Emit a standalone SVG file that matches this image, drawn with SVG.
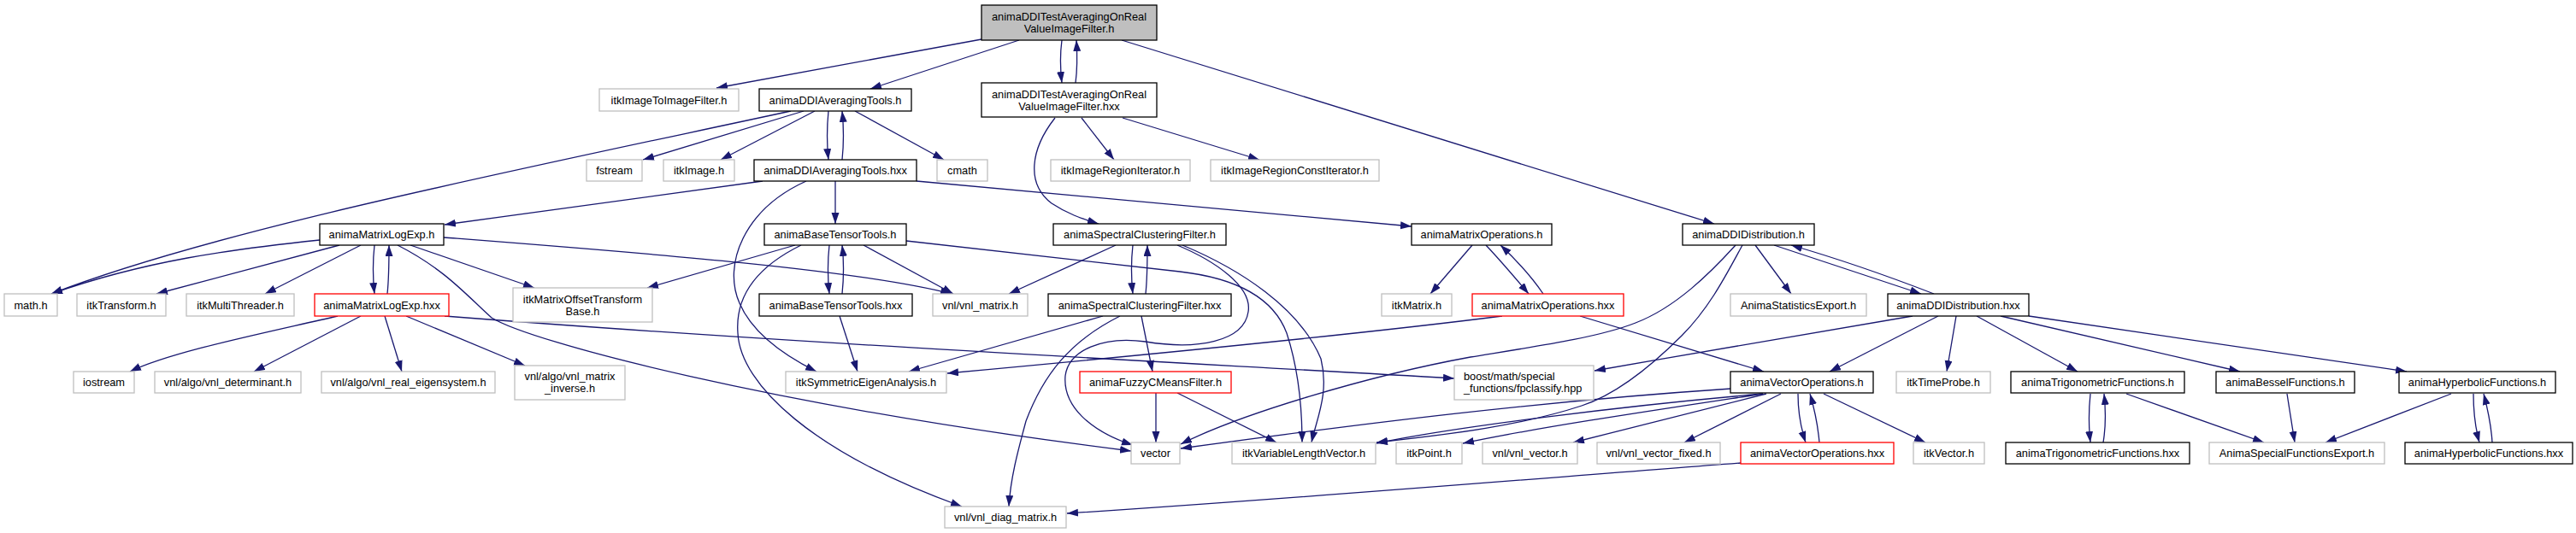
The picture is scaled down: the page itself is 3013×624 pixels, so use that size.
<svg xmlns="http://www.w3.org/2000/svg" width="3013" height="624" viewBox="0 0 3013 624">
<defs>
<style>
rect{fill:#fff;stroke:#000;stroke-width:1.3}
.g rect{stroke:#bfbfbf}
.r rect{stroke:#ff0000}
.m rect{fill:#bfbfbf}
text{font-family:"Liberation Sans",Arial,sans-serif;font-size:12.8px;text-anchor:middle;fill:#000}
.l{text-anchor:start}
#edges path{fill:none;stroke:#191970;stroke-width:1.3;marker-end:url(#a)}
</style>
<marker id="a" markerUnits="userSpaceOnUse" markerWidth="14" markerHeight="10" refX="13" refY="4.5" orient="auto"><path d="M0,0 L13,4.5 L0,9 z" fill="#191970"/></marker>
</defs>
<rect x="0" y="0" width="3013" height="624" style="fill:#fff;stroke:none"/>
<g id="edges">
<path d="M1148,46 L838,103"/>
<path d="M1192,47 L1018,104"/>
<path d="M1242,47 C1240,62 1240,80 1242,97"/>
<path d="M1258,97 C1260,82 1260,64 1259,47"/>
<path d="M1312,47 L2005,262"/>
<path d="M1234,138 C1205,175 1200,215 1230,238 C1248,250 1265,256 1285,262"/>
<path d="M1265,138 L1303,187"/>
<path d="M1313,138 L1473,187"/>
<path d="M925,130 C600,200 250,270 60,344"/>
<path d="M940,130 L752,187"/>
<path d="M953,130 L843,187"/>
<path d="M969,130 C967,150 967,168 969,187"/>
<path d="M985,187 C987,168 987,150 985,130"/>
<path d="M1000,130 L1104,187"/>
<path d="M892,212 L520,263"/>
<path d="M977,212 L977,262"/>
<path d="M943,212 C870,245 845,310 865,355 C880,390 915,415 955,435"/>
<path d="M1072,212 L1651,265"/>
<path d="M374,281 C270,292 170,305 60,344"/>
<path d="M397,287 L183,344"/>
<path d="M422,287 L310,344"/>
<path d="M438,287 C436,305 436,325 438,344"/>
<path d="M453,344 C455,325 455,305 455,287"/>
<path d="M480,287 L625,337"/>
<path d="M519,278 C750,296 1000,315 1113,344"/>
<path d="M465,287 C520,315 545,345 575,372 C620,400 900,475 1323,528"/>
<path d="M395,370 C300,392 200,412 152,435"/>
<path d="M422,370 L297,435"/>
<path d="M450,370 L470,435"/>
<path d="M475,370 L614,428"/>
<path d="M520,370 C900,400 1300,420 1701,443"/>
<path d="M930,287 L757,337"/>
<path d="M937,287 C880,315 860,350 863,390 C866,450 950,530 1125,593"/>
<path d="M970,287 C968,305 968,325 970,344"/>
<path d="M985,344 C987,325 987,305 985,287"/>
<path d="M1010,287 L1115,344"/>
<path d="M1060,282 L1380,318 C1450,326 1490,350 1505,390 C1518,430 1523,470 1523,518"/>
<path d="M1305,287 L1180,344"/>
<path d="M1325,287 C1323,305 1323,325 1325,344"/>
<path d="M1340,344 C1342,325 1342,305 1342,287"/>
<path d="M1377,287 C1420,305 1465,335 1460,365 C1455,400 1400,410 1340,400 C1290,393 1250,410 1246,440 C1243,475 1275,505 1325,521"/>
<path d="M1383,287 C1450,315 1520,360 1545,420 C1555,460 1540,490 1534,518"/>
<path d="M1722,287 L1673,344"/>
<path d="M1738,287 C1755,305 1772,325 1788,344"/>
<path d="M1805,344 C1790,322 1772,303 1755,287"/>
<path d="M2053,287 L2095,344"/>
<path d="M2075,287 L2247,344"/>
<path d="M2262,344 C2200,320 2140,300 2095,287"/>
<path d="M2030,287 C2000,320 1960,360 1913,378 C1870,395 1800,405 1720,418 C1600,440 1450,485 1381,520"/>
<path d="M2038,287 C2020,320 2000,360 1967,393 C1930,430 1890,462 1850,475 C1780,498 1700,508 1610,518"/>
<path d="M982,370 L1003,435"/>
<path d="M1290,370 L1063,435"/>
<path d="M1310,370 C1250,400 1220,440 1200,493 C1190,530 1182,560 1180,593"/>
<path d="M1335,370 L1348,435"/>
<path d="M1352,460 L1352,518"/>
<path d="M1377,460 L1493,518"/>
<path d="M1757,370 C1600,390 1400,410 1108,437"/>
<path d="M1848,370 L2063,435"/>
<path d="M2237,370 C2150,385 2000,410 1865,434"/>
<path d="M2267,370 L2140,435"/>
<path d="M2288,370 L2277,435"/>
<path d="M2312,370 L2430,435"/>
<path d="M2340,370 L2620,435"/>
<path d="M2373,370 L2815,435"/>
<path d="M2025,455 C1800,470 1600,495 1381,525"/>
<path d="M2062,461 C1900,475 1700,500 1610,519"/>
<path d="M2062,461 C1950,478 1800,500 1711,519"/>
<path d="M2066,461 L1840,518"/>
<path d="M2083,461 L1970,518"/>
<path d="M2133,461 L2252,518"/>
<path d="M2103,461 C2103,480 2106,500 2112,518"/>
<path d="M2128,518 C2126,495 2122,478 2117,461"/>
<path d="M2036,542 C1800,560 1500,585 1248,601"/>
<path d="M2445,461 C2443,480 2443,500 2445,518"/>
<path d="M2460,518 C2463,500 2463,480 2461,461"/>
<path d="M2487,461 L2648,518"/>
<path d="M2675,461 L2684,518"/>
<path d="M2867,461 L2720,518"/>
<path d="M2893,461 C2893,480 2895,500 2900,518"/>
<path d="M2915,518 C2914,500 2910,480 2905,461"/>
</g>
<g id="n0" class="m"><rect x="1148" y="6" width="205" height="41"/><text x="1250.5" y="24">animaDDITestAveragingOnReal</text><text x="1250.5" y="38">ValueImageFilter.h</text></g>
<g id="n1" class="g"><rect x="701" y="104" width="163" height="26"/><text x="782.5" y="121.5">itkImageToImageFilter.h</text></g>
<g id="n2"><rect x="888" y="104" width="178" height="26"/><text x="977" y="121.5">animaDDIAveragingTools.h</text></g>
<g id="n3"><rect x="1148" y="97" width="205" height="40"/><text x="1250.5" y="114.5">animaDDITestAveragingOnReal</text><text x="1250.5" y="128.5">ValueImageFilter.hxx</text></g>
<g id="n4" class="g"><rect x="686" y="187" width="65" height="25"/><text x="718.5" y="204">fstream</text></g>
<g id="n5" class="g"><rect x="776" y="187" width="83" height="25"/><text x="817.5" y="204">itkImage.h</text></g>
<g id="n6"><rect x="882" y="187" width="190" height="25"/><text x="977" y="204">animaDDIAveragingTools.hxx</text></g>
<g id="n7" class="g"><rect x="1096" y="187" width="59" height="25"/><text x="1125.5" y="204">cmath</text></g>
<g id="n8" class="g"><rect x="1229" y="187" width="163" height="25"/><text x="1310.5" y="204">itkImageRegionIterator.h</text></g>
<g id="n9" class="g"><rect x="1416" y="187" width="197" height="25"/><text x="1514.5" y="204">itkImageRegionConstIterator.h</text></g>
<g id="n10"><rect x="374" y="262" width="145" height="25"/><text x="446.5" y="279">animaMatrixLogExp.h</text></g>
<g id="n11"><rect x="894" y="262" width="166" height="25"/><text x="977" y="279">animaBaseTensorTools.h</text></g>
<g id="n12"><rect x="1232" y="262" width="202" height="25"/><text x="1333" y="279">animaSpectralClusteringFilter.h</text></g>
<g id="n13"><rect x="1651" y="262" width="164" height="25"/><text x="1733" y="279">animaMatrixOperations.h</text></g>
<g id="n14"><rect x="1968" y="262" width="154" height="25"/><text x="2045" y="279">animaDDIDistribution.h</text></g>
<g id="n15" class="g"><rect x="5" y="344" width="62" height="26"/><text x="36" y="361.5">math.h</text></g>
<g id="n16" class="g"><rect x="90" y="344" width="104" height="26"/><text x="142" y="361.5">itkTransform.h</text></g>
<g id="n17" class="g"><rect x="218" y="344" width="126" height="26"/><text x="281" y="361.5">itkMultiThreader.h</text></g>
<g id="n18" class="r"><rect x="368" y="344" width="157" height="26"/><text x="446.5" y="361.5">animaMatrixLogExp.hxx</text></g>
<g id="n19" class="g"><rect x="600" y="337" width="163" height="40"/><text x="681.5" y="354.5">itkMatrixOffsetTransform</text><text x="681.5" y="368.5">Base.h</text></g>
<g id="n20"><rect x="888" y="344" width="179" height="26"/><text x="977.5" y="361.5">animaBaseTensorTools.hxx</text></g>
<g id="n21" class="g"><rect x="1091" y="344" width="111" height="26"/><text x="1146.5" y="361.5">vnl/vnl_matrix.h</text></g>
<g id="n22"><rect x="1226" y="344" width="214" height="26"/><text x="1333" y="361.5">animaSpectralClusteringFilter.hxx</text></g>
<g id="n23" class="g"><rect x="1616" y="344" width="82" height="26"/><text x="1657" y="361.5">itkMatrix.h</text></g>
<g id="n24" class="r"><rect x="1722" y="344" width="177" height="26"/><text x="1810.5" y="361.5">animaMatrixOperations.hxx</text></g>
<g id="n25" class="g"><rect x="2024" y="344" width="159" height="26"/><text x="2103.5" y="361.5">AnimaStatisticsExport.h</text></g>
<g id="n26"><rect x="2208" y="344" width="165" height="26"/><text x="2290.5" y="361.5">animaDDIDistribution.hxx</text></g>
<g id="n27" class="g"><rect x="86" y="435" width="71" height="25"/><text x="121.5" y="452">iostream</text></g>
<g id="n28" class="g"><rect x="181" y="435" width="171" height="25"/><text x="266.5" y="452">vnl/algo/vnl_determinant.h</text></g>
<g id="n29" class="g"><rect x="376" y="435" width="203" height="25"/><text x="477.5" y="452">vnl/algo/vnl_real_eigensystem.h</text></g>
<g id="n30" class="g"><rect x="602" y="428" width="129" height="40"/><text x="666.5" y="445">vnl/algo/vnl_matrix</text><text x="666.5" y="459">_inverse.h</text></g>
<g id="n31" class="g"><rect x="919" y="435" width="188" height="25"/><text x="1013" y="452">itkSymmetricEigenAnalysis.h</text></g>
<g id="n32" class="r"><rect x="1263" y="435" width="177" height="25"/><text x="1351.5" y="452">animaFuzzyCMeansFilter.h</text></g>
<g id="n33" class="g"><rect x="1701" y="428" width="163" height="40"/><text class="l" x="1712" y="445">boost/math/special</text><text class="l" x="1712" y="459">_functions/fpclassify.hpp</text></g>
<g id="n34"><rect x="2024" y="435" width="167" height="25"/><text x="2107.5" y="452">animaVectorOperations.h</text></g>
<g id="n35" class="g"><rect x="2218" y="435" width="110" height="25"/><text x="2273" y="452">itkTimeProbe.h</text></g>
<g id="n36"><rect x="2352" y="435" width="203" height="25"/><text x="2453.5" y="452">animaTrigonometricFunctions.h</text></g>
<g id="n37"><rect x="2592" y="435" width="162" height="25"/><text x="2673" y="452">animaBesselFunctions.h</text></g>
<g id="n38"><rect x="2806" y="435" width="183" height="25"/><text x="2897.5" y="452">animaHyperbolicFunctions.h</text></g>
<g id="n39" class="g"><rect x="1323" y="518" width="57" height="25"/><text x="1351.5" y="535">vector</text></g>
<g id="n40" class="g"><rect x="1441" y="518" width="168" height="25"/><text x="1525" y="535">itkVariableLengthVector.h</text></g>
<g id="n41" class="g"><rect x="1633" y="518" width="77" height="25"/><text x="1671.5" y="535">itkPoint.h</text></g>
<g id="n42" class="g"><rect x="1734" y="518" width="111" height="25"/><text x="1789.5" y="535">vnl/vnl_vector.h</text></g>
<g id="n43" class="g"><rect x="1868" y="518" width="144" height="25"/><text x="1940" y="535">vnl/vnl_vector_fixed.h</text></g>
<g id="n44" class="r"><rect x="2036" y="518" width="179" height="25"/><text x="2125.5" y="535">animaVectorOperations.hxx</text></g>
<g id="n45" class="g"><rect x="2238" y="518" width="83" height="25"/><text x="2279.5" y="535">itkVector.h</text></g>
<g id="n46"><rect x="2346" y="518" width="215" height="25"/><text x="2453.5" y="535">animaTrigonometricFunctions.hxx</text></g>
<g id="n47" class="g"><rect x="2584" y="518" width="205" height="25"/><text x="2686.5" y="535">AnimaSpecialFunctionsExport.h</text></g>
<g id="n48"><rect x="2813" y="518" width="196" height="25"/><text x="2911" y="535">animaHyperbolicFunctions.hxx</text></g>
<g id="n49" class="g"><rect x="1105" y="593" width="142" height="25"/><text x="1176" y="610">vnl/vnl_diag_matrix.h</text></g>
</svg>
